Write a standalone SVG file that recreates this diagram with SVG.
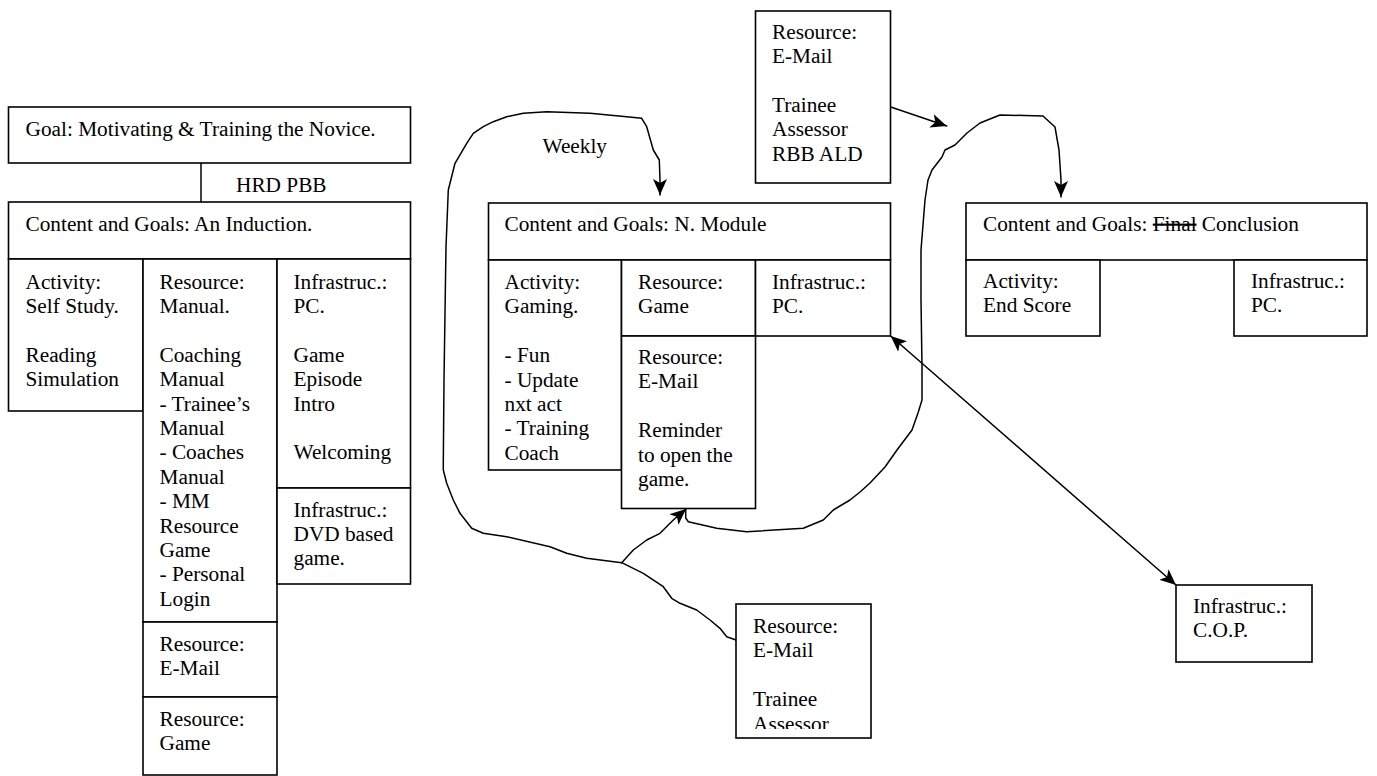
<svg xmlns="http://www.w3.org/2000/svg" width="1377" height="776" viewBox="0 0 1377 776">
<style>
.b{fill:#fff;stroke:#000;stroke-width:1.6}
.t{font-family:"Liberation Serif","Times New Roman",serif;font-size:21.3px;fill:#000}
.c{fill:none;stroke:#000;stroke-width:1.5;stroke-linejoin:round;stroke-linecap:round}
</style>
<defs>
<marker id="ah" markerUnits="userSpaceOnUse" markerWidth="16" markerHeight="14" refX="16" refY="7" orient="auto-start-reverse">
<path d="M0,0 L16,7 L0,14 L4,7 z" fill="#000"/>
</marker>
<clipPath id="clipB"><rect x="736" y="604" width="135" height="125"/></clipPath>
</defs>
<rect width="1377" height="776" fill="#fff"/>

<g id="connectors">
<line class="c" x1="201" y1="163" x2="201" y2="202"/>
<path class="c" marker-end="url(#ah)" d="M736,640 L726.7,636.7 L720,628.3 L710,620 L696.7,610 L680,603.3 L671.7,598.3 L663.3,586.7 L643.3,573.3 L621.7,562.7 L586.7,558.3 L566.7,553.3 L550,546.7 L506.7,536.7 L483.3,533.3 L471.7,528.3 L460,513.3 L453.3,500 L446.7,483.3 L443.3,470 L443.3,463 L444,380 L445,313 L446,247 L448.3,190 L455,163.3 L466.7,143.3 L473.3,133.3 L483.3,126.7 L493.3,121.7 L506.7,116.7 L523.3,113.3 L546.7,111.7 L590,113.3 L626.7,116.7 L641.7,118.3 L646.7,126.7 L653.3,150 L659.3,160 L660,180 L660,195"/>
<path class="c" marker-end="url(#ah)" d="M621.7,562.7 L633.3,550 L646.7,540 L660,533.3 L673.3,520 L686,509"/>
<path class="c" marker-end="url(#ah)" d="M685.7,509 L685.7,518 L688.3,521.7 L716.7,528.3 L746.7,531.7 L803.3,528.3 L823.3,520 L833.3,510 L850,500 L860,492 L870,483 L885,467 L897,450 L903,442 L912,430 L918,413 L922,400 L922,367 L921,300 L921,250 L925,200 L928,180 L932,170 L942,157 L945,150 L955,145 L967,133 L980,123 L1000,115 L1043,116 L1055,127 L1059,150 L1061,180 L1061,197"/>
<line class="c" marker-end="url(#ah)" x1="890" y1="106.7" x2="946.7" y2="126"/>
<line class="c" marker-start="url(#ah)" marker-end="url(#ah)" x1="890.7" y1="336" x2="1176" y2="585"/>
</g>

<g id="goal">
<rect class="b" x="8.5" y="107" width="402" height="56"/>
<text class="t" x="25.5" y="136">Goal: Motivating &amp; Training the Novice.</text>
</g>
<g id="hrd-label"><text class="t" x="236" y="192">HRD PBB</text></g>

<g id="induction">
<rect class="b" x="8.5" y="202" width="402" height="57"/>
<text class="t" x="25.5" y="231">Content and Goals: An Induction.</text>
<rect class="b" x="8.5" y="259" width="134.5" height="152"/>
<text class="t" x="25.5" y="288.5"><tspan x="25.5">Activity:</tspan><tspan x="25.5" dy="24.4">Self Study.</tspan><tspan x="25.5" dy="48.8">Reading</tspan><tspan x="25.5" dy="24.4">Simulation</tspan></text>
<rect class="b" x="143" y="259" width="134" height="363"/>
<text class="t" x="159.5" y="288.5"><tspan x="159.5">Resource:</tspan><tspan x="159.5" dy="24.4">Manual.</tspan><tspan x="159.5" dy="48.8">Coaching</tspan><tspan x="159.5" dy="24.4">Manual</tspan><tspan x="159.5" dy="24.4">- Trainee’s</tspan><tspan x="159.5" dy="24.4">Manual</tspan><tspan x="159.5" dy="24.4">- Coaches</tspan><tspan x="159.5" dy="24.4">Manual</tspan><tspan x="159.5" dy="24.4">- MM</tspan><tspan x="159.5" dy="24.4">Resource</tspan><tspan x="159.5" dy="24.4">Game</tspan><tspan x="159.5" dy="24.4">- Personal</tspan><tspan x="159.5" dy="24.4">Login</tspan></text>
<rect class="b" x="277" y="259" width="133.5" height="229"/>
<text class="t" x="293.5" y="288.5"><tspan x="293.5">Infrastruc.:</tspan><tspan x="293.5" dy="24.4">PC.</tspan><tspan x="293.5" dy="48.8">Game</tspan><tspan x="293.5" dy="24.4">Episode</tspan><tspan x="293.5" dy="24.4">Intro</tspan><tspan x="293.5" dy="48.8">Welcoming</tspan></text>
<rect class="b" x="277" y="488" width="133.5" height="96"/>
<text class="t" x="293.5" y="516.5"><tspan x="293.5">Infrastruc.:</tspan><tspan x="293.5" dy="24.4">DVD based</tspan><tspan x="293.5" dy="24.4">game.</tspan></text>
<rect class="b" x="143" y="622" width="134" height="75"/>
<text class="t" x="159.5" y="650.5"><tspan x="159.5">Resource:</tspan><tspan x="159.5" dy="24.4">E-Mail</tspan></text>
<rect class="b" x="143" y="697" width="134" height="78"/>
<text class="t" x="159.5" y="726"><tspan x="159.5">Resource:</tspan><tspan x="159.5" dy="24.4">Game</tspan></text>
</g>

<g id="module">
<rect class="b" x="488.5" y="203" width="402" height="57"/>
<text class="t" x="504.5" y="231">Content and Goals: N. Module</text>
<rect class="b" x="488.5" y="260" width="133" height="210"/>
<text class="t" x="504.5" y="289"><tspan x="504.5">Activity:</tspan><tspan x="504.5" dy="24.4">Gaming.</tspan><tspan x="504.5" dy="48.8">- Fun</tspan><tspan x="504.5" dy="24.4">- Update</tspan><tspan x="504.5" dy="24.4">nxt act</tspan><tspan x="504.5" dy="24.4">- Training</tspan><tspan x="504.5" dy="24.4">Coach</tspan></text>
<rect class="b" x="621.5" y="260" width="134" height="76"/>
<text class="t" x="638" y="289"><tspan x="638">Resource:</tspan><tspan x="638" dy="24.4">Game</tspan></text>
<rect class="b" x="755.5" y="260" width="135" height="76"/>
<text class="t" x="772" y="289"><tspan x="772">Infrastruc.:</tspan><tspan x="772" dy="24.4">PC.</tspan></text>
<rect class="b" x="621.5" y="336" width="134" height="172.5"/>
<text class="t" x="638" y="364"><tspan x="638">Resource:</tspan><tspan x="638" dy="24.4">E-Mail</tspan><tspan x="638" dy="48.8">Reminder</tspan><tspan x="638" dy="24.4">to open the</tspan><tspan x="638" dy="24.4">game.</tspan></text>
</g>
<g id="weekly-label"><text class="t" x="542.5" y="153">Weekly</text></g>

<g id="email-top">
<rect class="b" x="755.5" y="11" width="135" height="172"/>
<text class="t" x="772" y="38.5"><tspan x="772">Resource:</tspan><tspan x="772" dy="24.4">E-Mail</tspan><tspan x="772" dy="48.8">Trainee</tspan><tspan x="772" dy="24.4">Assessor</tspan><tspan x="772" dy="24.4">RBB ALD</tspan></text>
</g>

<g id="conclusion">
<rect class="b" x="966" y="203" width="401" height="57"/>
<text class="t" x="983" y="231">Content and Goals: <tspan style="text-decoration:line-through">Final</tspan> Conclusion</text>
<rect class="b" x="966" y="260" width="134" height="76"/>
<text class="t" x="983" y="288"><tspan x="983">Activity:</tspan><tspan x="983" dy="24.4">End Score</tspan></text>
<rect class="b" x="1234" y="260" width="133" height="76"/>
<text class="t" x="1251" y="288"><tspan x="1251">Infrastruc.:</tspan><tspan x="1251" dy="24.4">PC.</tspan></text>
</g>

<g id="email-bottom">
<rect class="b" x="736" y="604" width="135" height="134"/>
<text class="t" x="753" y="633" clip-path="url(#clipB)"><tspan x="753">Resource:</tspan><tspan x="753" dy="24.4">E-Mail</tspan><tspan x="753" dy="48.8">Trainee</tspan><tspan x="753" dy="24.4">Assessor</tspan></text>
</g>

<g id="cop">
<rect class="b" x="1176" y="585" width="136" height="77"/>
<text class="t" x="1193" y="613"><tspan x="1193">Infrastruc.:</tspan><tspan x="1193" dy="24.4">C.O.P.</tspan></text>
</g>
</svg>
